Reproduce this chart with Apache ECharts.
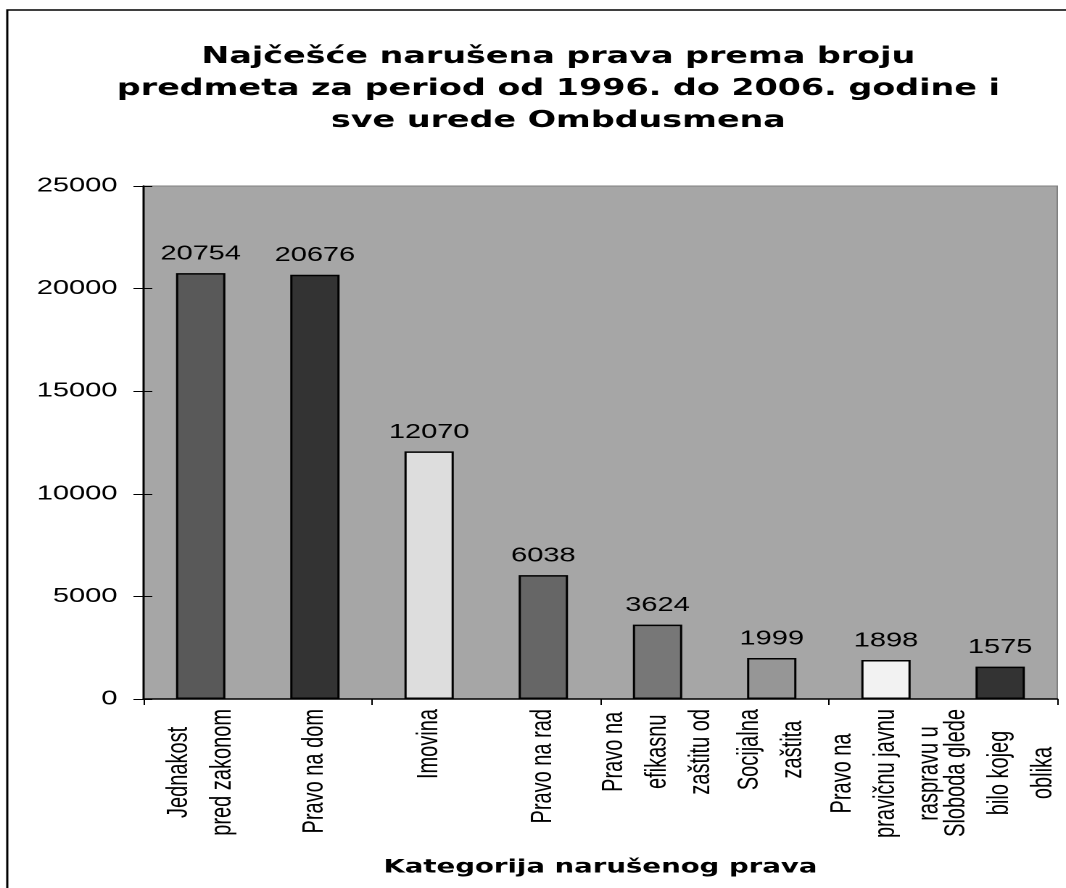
<!DOCTYPE html>
<html>
<head>
<meta charset="utf-8">
<script src="https://cdn.jsdelivr.net/npm/echarts@6/dist/echarts.min.js"></script>
<style>
html,body{margin:0;padding:0;background:#fff;overflow:hidden;}
#chart{position:absolute;left:0;top:0;width:735px;height:888px;transform:scaleX(1.4503);transform-origin:0 0;}
</style>
</head>
<body>
<div id="chart"></div>
<script>
const titleText = 'Najčešće narušena prava prema broju\npredmeta za period od 1996. do 2006. godine i\nsve urede Ombdusmena';
const xAxisName = 'Kategorija narušenog prava';
const categories = [
  'Jednakost\npred zakonom',
  'Pravo na dom',
  'Imovina',
  'Pravo na rad',
  'Pravo na\nefikasnu\nzaštitu od',
  'Socijalna\nzaštita',
  'Pravo na\npravičnu javnu\nraspravu u',
  'Sloboda glede\nbilo kojeg\noblika'
];
const values = [20754, 20676, 12070, 6038, 3624, 1999, 1898, 1575];
const yTicks = [0, 5000, 10000, 15000, 20000, 25000];

const barColors = ['#595959', '#333333', '#dddddd', '#666666', '#777777', '#969696', '#f2f2f2', '#333333'];
const normalFont = '"Liberation Sans", Arial, sans-serif';
const boldFont = '"DejaVu Sans", sans-serif';
const labelSize = 20;
const labelLineHeight = 30;
const labelMargin = 10;

// length of the longest line of each category label (keeps each label block
// against the axis while its lines are centred on each other)
const measureCtx = document.createElement('canvas').getContext('2d');
measureCtx.font = labelSize + 'px ' + normalFont;
const labelLen = categories.map(function (cat) {
  return Math.max.apply(null, cat.split('\n').map(function (l) { return measureCtx.measureText(l).width; }));
});

const yMin = yTicks[0], yMax = yTicks[yTicks.length - 1], yStep = yTicks[1] - yTicks[0];

const chart = echarts.init(document.getElementById('chart'), null, {renderer: 'canvas', devicePixelRatio: 2});
chart.setOption({
  animation: false,
  backgroundColor: '#ffffff',
  title: {
    text: titleText,
    left: 380,
    top: 36,
    textAlign: 'center',
    textStyle: {fontFamily: boldFont, fontWeight: 'bold', fontSize: 23, lineHeight: 32, color: '#000'}
  },
  graphic: [{
    type: 'rect', silent: true, z: 100,
    shape: {x: 5, y: 10, width: 1000, height: 1000},
    style: {fill: 'none', stroke: '#000', lineWidth: 1.5}
  }],
  grid: {
    left: 99, right: 6, top: 186, bottom: 189,
    show: true, backgroundColor: '#a6a6a6', borderColor: '#808080', borderWidth: 1,
    containLabel: false
  },
  xAxis: {
    type: 'category',
    data: categories,
    name: xAxisName,
    nameLocation: 'middle',
    nameGap: 159,
    nameTextStyle: {fontFamily: boldFont, fontWeight: 'bold', fontSize: 19, color: '#000'},
    axisLine: {show: true, lineStyle: {color: '#000', width: 1.5}},
    axisTick: {show: true, length: 6, lineStyle: {color: '#000'}},
    axisLabel: {show: false},
    splitLine: {show: false}
  },
  yAxis: [{
    type: 'value',
    min: yMin, max: yMax, interval: yStep,
    axisLine: {show: true, lineStyle: {color: '#000', width: 1.5}},
    axisTick: {show: true, length: 7, lineStyle: {color: '#000'}},
    axisLabel: {margin: 18, color: '#000', fontFamily: normalFont, fontSize: 20,
      formatter: function (v) { return String(v); }},
    splitLine: {show: false}
  }, {
    // inner half of the tick marks (ticks cross the axis line)
    type: 'value', position: 'left',
    min: yMin, max: yMax, interval: yStep,
    axisLine: {show: false},
    axisTick: {show: true, inside: true, length: 6, lineStyle: {color: '#000'}},
    axisLabel: {show: false},
    splitLine: {show: false}
  }],
  series: [{
    type: 'bar',
    yAxisIndex: 0,
    barWidth: 34,
    data: values.map(function (v, i) {
      return {value: v, itemStyle: {color: barColors[i]}};
    }),
    itemStyle: {borderColor: '#000', borderWidth: 1.5},
    label: {show: true, position: 'top', distance: 9, color: '#000', fontFamily: normalFont, fontSize: 20}
  }, {
    // category labels: rotated, lines centred on each other, block placed under the axis
    type: 'custom',
    yAxisIndex: 0,
    silent: true,
    clip: false,
    data: categories.map(function (c, i) { return [i, 0]; }),
    renderItem: function (params, api) {
      const i = params.dataIndex;
      const pt = api.coord([api.value(0), api.value(1)]);
      return {
        type: 'text',
        x: pt[0],
        y: pt[1] + labelMargin + labelLen[i] / 2,
        rotation: Math.PI / 2,
        style: {
          text: categories[i],
          fontFamily: normalFont, fontSize: labelSize, lineHeight: labelLineHeight,
          fill: '#000', align: 'center', verticalAlign: 'middle'
        }
      };
    }
  }]
});
</script>
</body>
</html>
